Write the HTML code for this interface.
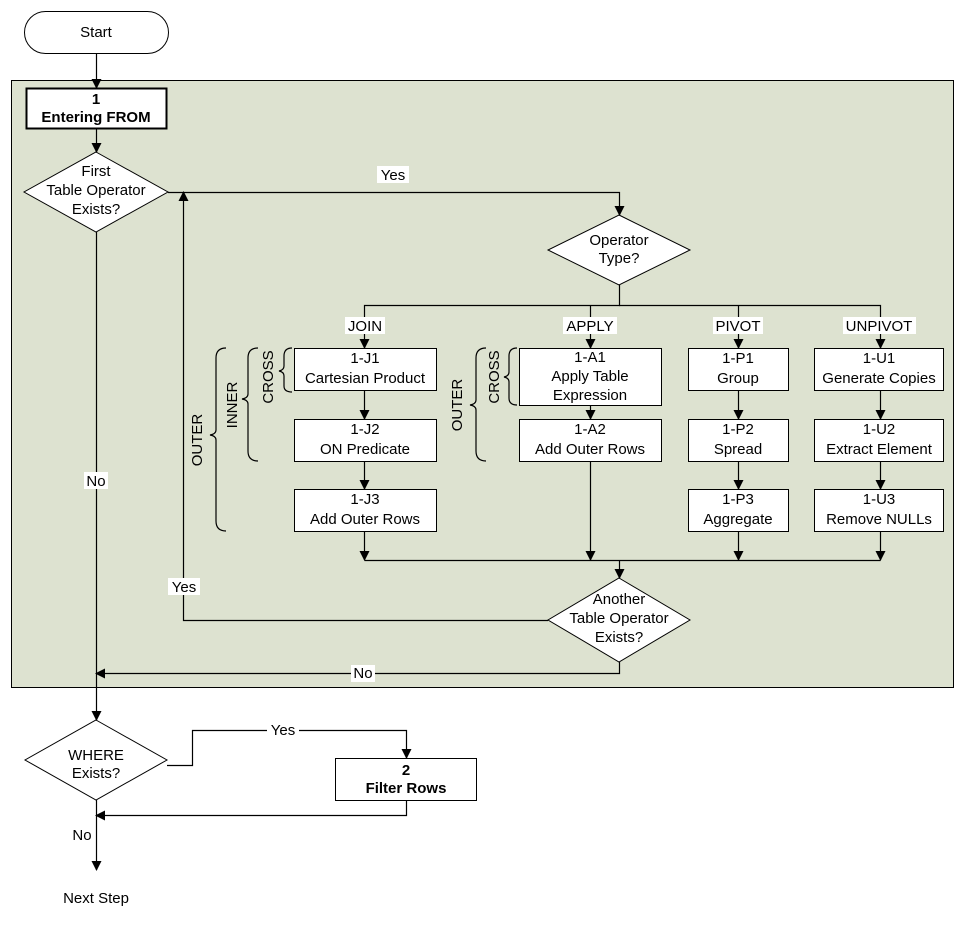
<!DOCTYPE html>
<html><head><style>body{margin:0;background:#fff}svg{display:block}text{font-family:"Liberation Sans",Arial,sans-serif;font-size:15px;fill:#000}</style></head><body>
<svg width="966" height="926" viewBox="0 0 966 926" xmlns="http://www.w3.org/2000/svg">
<defs><marker id="a" markerWidth="10" markerHeight="10" refX="9" refY="5" orient="auto" markerUnits="userSpaceOnUse"><path d="M0,0 L10,5 L0,10 z" fill="#000"/></marker></defs>
<rect x="11.5" y="80.5" width="942" height="607" fill="#dde2d0" stroke="#000"/>
<g fill="#fff" stroke="#000" stroke-width="1">
<rect x="24.5" y="11.5" width="144" height="42" rx="21"/>
<rect x="26.5" y="88.5" width="140" height="40" stroke-width="2"/>
<polygon points="96,152 168,192 96,232 24,192"/>
<polygon points="619,215 690,250 619,285 548,250"/>
<polygon points="619,578 690,620 619,662 548,620"/>
<polygon points="96,720 167,760 96,800 25,760"/>
<rect x="335.5" y="758.5" width="141" height="42"/>
<rect x="294.5" y="348.5" width="142" height="42"/><rect x="294.5" y="419.5" width="142" height="42"/><rect x="294.5" y="489.5" width="142" height="42"/>
<rect x="519.5" y="348.5" width="142" height="57"/><rect x="519.5" y="419.5" width="142" height="42"/>
<rect x="688.5" y="348.5" width="100" height="42"/><rect x="688.5" y="419.5" width="100" height="42"/><rect x="688.5" y="489.5" width="100" height="42"/>
<rect x="814.5" y="348.5" width="129" height="42"/><rect x="814.5" y="419.5" width="129" height="42"/><rect x="814.5" y="489.5" width="129" height="42"/>
</g>
<g fill="none" stroke="#000" stroke-width="1.2">
<path d="M96.5,53 V88" marker-end="url(#a)"/>
<path d="M96.5,128 V152" marker-end="url(#a)"/>
<path d="M168,192.5 H619.5 V215" marker-end="url(#a)"/>
<path d="M619.5,285 V305.5 H364.5 V348" marker-end="url(#a)"/>
<path d="M590.5,305 V348" marker-end="url(#a)"/>
<path d="M738.5,305 V348" marker-end="url(#a)"/>
<path d="M619,305.5 H880.5 V348" marker-end="url(#a)"/>
<path d="M364.5,390 V419" marker-end="url(#a)"/><path d="M364.5,461 V489" marker-end="url(#a)"/>
<path d="M738.5,390 V419" marker-end="url(#a)"/><path d="M738.5,461 V489" marker-end="url(#a)"/>
<path d="M880.5,390 V419" marker-end="url(#a)"/><path d="M880.5,461 V489" marker-end="url(#a)"/>
<path d="M590.5,405 V419" marker-end="url(#a)"/>
<path d="M364.5,531 V560" marker-end="url(#a)"/>
<path d="M590.5,461 V560" marker-end="url(#a)"/>
<path d="M738.5,531 V560" marker-end="url(#a)"/>
<path d="M880.5,531 V560" marker-end="url(#a)"/>
<path d="M364.5,560.5 H880.5"/>
<path d="M619.5,560 V578" marker-end="url(#a)"/>
<path d="M548,620.5 H183.5 V192" marker-end="url(#a)"/>
<path d="M619.5,662 V673.5 H96" marker-end="url(#a)"/>
<path d="M96.5,232 V720" marker-end="url(#a)"/>
<path d="M167,765.5 H192.5 V730.5 H406.5 V758" marker-end="url(#a)"/>
<path d="M406.5,800 V815.5 H96" marker-end="url(#a)"/>
<path d="M96.5,800 V870" marker-end="url(#a)"/>
<path d="M292,348 q-8,0 -8,8 v10 q0,4 -5,5 q5,1 5,5 v10 q0,6 8,6"/>
<path d="M258,348 q-10,0 -10,10 v36 q0,4 -6,5 q6,1 6,5 v47 q0,10 10,10"/>
<path d="M226,348 q-10,0 -10,10 v72 q0,4 -6,5 q6,1 6,5 v81 q0,10 10,10"/>
<path d="M517,348 q-8,0 -8,8 v16 q0,4 -5,5 q5,1 5,5 v16 q0,7 8,7"/>
<path d="M486,348 q-10,0 -10,10 v42 q0,4 -6,5 q6,1 6,5 v41 q0,10 10,10"/>
</g>
<g text-anchor="middle">
<text x="96" y="37">Start</text>
<text x="96" y="104" font-weight="bold">1</text><text x="96" y="122" font-weight="bold">Entering FROM</text>
<text x="96" y="176">First</text><text x="96" y="195">Table Operator</text><text x="96" y="214">Exists?</text>
<text x="619" y="245">Operator</text><text x="619" y="263">Type?</text>
<text x="619" y="604">Another</text><text x="619" y="623">Table Operator</text><text x="619" y="642">Exists?</text>
<text x="96" y="760">WHERE</text><text x="96" y="778">Exists?</text>
<text x="406" y="775" font-weight="bold">2</text><text x="406" y="793" font-weight="bold">Filter Rows</text>
<text x="365" y="363">1-J1</text><text x="365" y="383">Cartesian Product</text>
<text x="365" y="434">1-J2</text><text x="365" y="454">ON Predicate</text>
<text x="365" y="504">1-J3</text><text x="365" y="524">Add Outer Rows</text>
<text x="590" y="362">1-A1</text><text x="590" y="381">Apply Table</text><text x="590" y="400">Expression</text>
<text x="590" y="434">1-A2</text><text x="590" y="454">Add Outer Rows</text>
<text x="738" y="363">1-P1</text><text x="738" y="383">Group</text>
<text x="738" y="434">1-P2</text><text x="738" y="454">Spread</text>
<text x="738" y="504">1-P3</text><text x="738" y="524">Aggregate</text>
<text x="879" y="363">1-U1</text><text x="879" y="383">Generate Copies</text>
<text x="879" y="434">1-U2</text><text x="879" y="454">Extract Element</text>
<text x="879" y="504">1-U3</text><text x="879" y="524">Remove NULLs</text>
<text x="96" y="903">Next Step</text>
</g>
<g text-anchor="middle">
<rect x="345" y="317" width="40" height="17" fill="#fff"/><text x="365" y="331">JOIN</text>
<rect x="563" y="317" width="54" height="17" fill="#fff"/><text x="590" y="331">APPLY</text>
<rect x="713" y="317" width="50" height="17" fill="#fff"/><text x="738" y="331">PIVOT</text>
<rect x="843" y="317" width="73" height="17" fill="#fff"/><text x="879" y="331">UNPIVOT</text>
<rect x="377" y="166" width="32" height="17" fill="#fff"/><text x="393" y="180">Yes</text>
<rect x="168" y="578" width="32" height="17" fill="#fff"/><text x="184" y="592">Yes</text>
<rect x="84" y="472" width="24" height="17" fill="#fff"/><text x="96" y="486">No</text>
<rect x="351" y="665" width="24" height="17" fill="#fff"/><text x="363" y="678">No</text>
<rect x="267" y="721" width="32" height="17" fill="#fff"/><text x="283" y="735">Yes</text>
<rect x="70" y="826" width="24" height="17" fill="#fff"/><text x="82" y="840">No</text>
<text transform="translate(273,377) rotate(-90)">CROSS</text>
<text transform="translate(237,405) rotate(-90)">INNER</text>
<text transform="translate(202,440) rotate(-90)">OUTER</text>
<text transform="translate(499,377) rotate(-90)">CROSS</text>
<text transform="translate(462,405) rotate(-90)">OUTER</text>
</g>
</svg>
</body></html>
